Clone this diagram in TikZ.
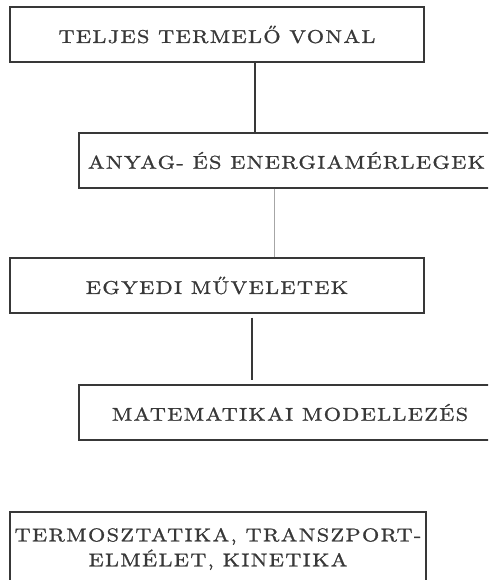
\documentclass[tikz,border=0pt]{standalone}
\usepackage{fontspec}
\setmainfont{lmroman10-regular.otf}[FakeBold=1.2, FakeStretch=1.2]
\usepackage{tikz}

\tikzset{
  doboz/.style={draw=black!78, line width=1.3pt, text=black!78, minimum height=55pt,
    align=center, inner sep=0pt,
    font=\fontsize{18.5}{25}\selectfont\addfontfeatures{LetterSpace=7.5}},
  vonal/.style={draw=black!78, line width=1.3pt}
}

\begin{document}
\begin{tikzpicture}[x=1pt,y=-1pt]
  \path[use as bounding box, clip] (0,0) rectangle (488,580);
  \node[doboz, minimum width=414pt](1) at (217,34.5){TELJES TERMELŐ VONAL};
  \node[doboz, minimum width=415pt](2) at (286.5,160.5){ANYAG- ÉS ENERGIAMÉRLEGEK};
  \node[doboz, minimum width=414pt](3) at (217,285.5){EGYEDI MŰVELETEK};
  \node[doboz, minimum width=422pt](4) at (290,412.5){MATEMATIKAI MODELLEZÉS};
  \node[doboz, minimum width=416pt, minimum height=74pt](5) at (218,549)
    {TERMOSZTATIKA, TRANSZPORT-\\ELMÉLET, KINETIKA};
  \draw[vonal] ([xshift=38pt]1.south)--([xshift=38pt]1.south |- 2.north);
  \draw[draw=black!35, line width=0.4pt] ([xshift=-12.5pt]2.south)--([xshift=-12.5pt]2.south |- 3.north);
  \draw[vonal] ([xshift=35pt,yshift=-4pt]3.south)--([xshift=35pt,yshift=4pt]3.south |- 4.north);
\end{tikzpicture}
\end{document}
